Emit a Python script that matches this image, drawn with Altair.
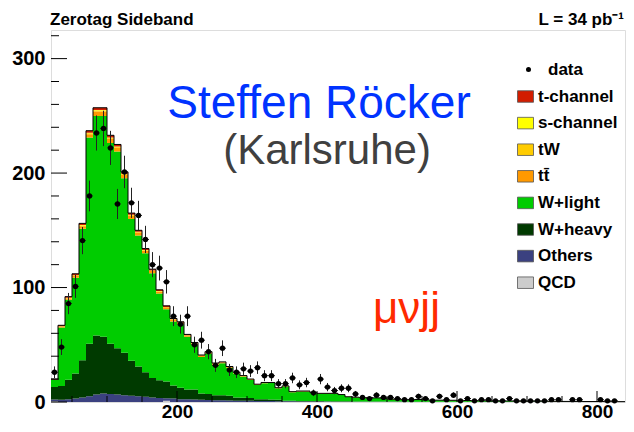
import math
import altair as alt
import pandas as pd

# ---------------- data ----------------
X_MIN, X_MAX, BIN_W = 20, 840, 10
BIN_START = list(range(20, 840, 10))  # 82 bins of 10 GeV

# legend order (top to bottom); stack order is the reverse (QCD at bottom)
COMPONENTS = ["t-channel", "s-channel", "tW", "tt\u0304", "W+light", "W+heavy", "Others", "QCD"]
COLORS = ["#d21d00", "#ffff00", "#ffcc00", "#ff9900", "#00cc00", "#003a00", "#3b4180", "#cccccc"]

QCD = [0.6] + [0.0] * 15 + [1.2] + [0.0] * 65

OTHERS = [1.5, 2, 2.5, 3, 4, 5, 6.5, 7.5, 7, 6.5, 6, 5.5, 5, 4.5, 4, 3.5, 2.0,
          3, 2.5, 2.3, 2.1, 2, 1.8, 1.6, 1.5, 1.4, 1.2, 1.1, 1.0, 0.9, 0.8, 0.8, 0.7, 0.6,
          0.6, 0.5, 0.5, 0.4, 0.4, 0.4, 0.3, 0.3, 0.3, 0.3, 0.2, 0.2, 0.2, 0.2, 0.15, 0.15, 0.15, 0.15] \
    + [0.1] * 9 + [0.05] * 21

W_HEAVY = [10.9, 12, 17, 22, 32.5, 46, 51.5, 49.5, 44, 40.5, 37, 30.5, 26, 21.5, 17, 15.5, 14.8, 11.5, 10, 8.7, 8.9,
           5.5, 5.2, 4.4, 4.3, 4.1, 2.8, 2.7, 2.6, 1.6, 1.5, 1.4, 1.3, 0.6, 0.4, 0.4, 0.4, 0.4, 0.4, 0.3, 0.4,
           0.3, 0.3, 0.2, 0.3, 0.3, 0.2, 0.2, 0.25, 0.2, 0.2, 0.15] \
    + [0.2] * 4 + [0.15] * 15 + [0.1] * 11

W_LIGHT = [6.2, 51, 69.8, 83.5, 114.9, 180, 191.9, 192.9, 175.3, 171.8, 152.5, 123.9, 114.5, 103.9, 91.4, 75.7,
           63.1, 55.8, 55.2, 45.9, 39,
           31.8, 35.4, 26.6, 28, 24.4, 21, 18.3, 15.6, 12.3, 14.1, 14.3, 10, 12.4, 7.6, 8.3, 8.3, 7.1, 6.4, 6.5, 6.5,
           5.7, 3.8, 3.5, 3.1, 3.1, 3.0, 2.8, 2.0, 1.85, 1.75, 1.8,
           1.8, 1.6, 1.2, 1.2, 1.15, 1.15, 1.05, 0.95, 0.85, 0.8, 0.7, 0.7, 0.6, 0.6, 0.5, 0.5, 0.4, 0.4, 0.4,
           0.35, 0.35, 0.25, 0.25, 0.25, 0.15, 0.15, 0.15, 0.05, 0.05, 0.05]

TTBAR = [0.3, 0.8, 1.2, 1.6, 2.2, 3.0, 3.8, 3.8, 3.6, 3.3, 3.0, 2.8, 2.5, 2.3, 2.0, 1.8, 1.6, 1.5, 1.3, 1.2, 1.1,
         1.0, 0.9, 0.8, 0.7, 0.6, 0.55, 0.5, 0.45, 0.4, 0.35, 0.3, 0.3, 0.25, 0.25, 0.2, 0.2, 0.2, 0.15, 0.15, 0.15] \
    + [0.1] * 10 + [0.05] * 31

TW = [0.1, 0.3, 0.4, 0.5, 0.7, 0.9, 1.0, 1.0, 0.9, 0.8, 0.7, 0.6, 0.5, 0.45, 0.4, 0.35, 0.3, 0.3, 0.25, 0.2, 0.2,
      0.2, 0.15, 0.15, 0.1, 0.1, 0.1, 0.1, 0.1, 0.05, 0.05] + [0.05] * 10 + [0.0] * 41

S_CHAN = [0.05, 0.1, 0.15, 0.2, 0.25, 0.3, 0.35, 0.35, 0.3, 0.3, 0.25, 0.25, 0.2, 0.2, 0.15, 0.15, 0.1, 0.1, 0.1,
          0.1, 0.1] + [0.05] * 10 + [0.0] * 51

T_CHAN = [0.4, 0.8, 1.0, 1.2, 1.5, 1.8, 2.0, 2.0, 1.9, 1.8, 1.6, 1.5, 1.3, 1.2, 1.1, 1.0, 0.9, 0.8, 0.7, 0.65, 0.6,
          0.5, 0.5, 0.45, 0.4, 0.35, 0.3, 0.3, 0.25, 0.25, 0.2] + [0.15] * 10 + [0.1] * 10 + [0.05] * 31

DATA = [26, 48, 86, 101, 141, 180, 235, 239, 222, 173, 201, 174, 163, 142, 120, 117, 105, 75, 68, 75,
        50, 54, 44, 32, 47, 28, 26, 29, 27, 30, 23, 23, 16, 16, 21, 15, 17, 8, 20, 13,
        10, 12, 12, 7, 4, 3, 6, 4, 4, 3, 2, 2, 5, 3, 1, 5, 2, 6, 1, 3,
        1, 2, 2, 1, 1, 3, 1, 1, 1, 1, 1, 2, 2, 0, 2, 2, 0, 0, 2, 1, 1, 0]

X_MAJOR = [200, 400, 600, 800]
X_MINOR = [50, 100, 150, 250, 300, 350, 450, 500, 550, 650, 700, 750]
Y_MAJOR = [0, 100, 200, 300]
Y_MINOR = [20, 40, 60, 80, 120, 140, 160, 180, 220, 240, 260, 280, 320]

# ---------------- tables ----------------
stack_names = ["QCD", "Others", "W+heavy", "W+light", "tt\u0304", "tW", "s-channel", "t-channel"]
stack_vals = [QCD, OTHERS, W_HEAVY, W_LIGHT, TTBAR, TW, S_CHAN, T_CHAN]
edges = BIN_START + [X_MAX]
rows = []
for order, (name, vals) in enumerate(zip(stack_names, stack_vals)):
    for xs_, v in zip(edges, vals + [vals[-1]]):
        rows.append({"comp": name, "order": order, "x": xs_, "v": v})
stack_df = pd.DataFrame(rows)

total = [sum(c[i] for c in stack_vals) for i in range(len(BIN_START))]
outline_df = pd.DataFrame({"x": edges, "y": total + [total[-1]]})

pts = [(b + BIN_W / 2, n) for b, n in zip(BIN_START, DATA) if n > 0]
data_df = pd.DataFrame({
    "x": [p[0] for p in pts],
    "n": [p[1] for p in pts],
    "lo": [p[1] - math.sqrt(p[1]) for p in pts],
    "hi": [p[1] + math.sqrt(p[1]) for p in pts],
    "x0": [p[0] - BIN_W / 2 for p in pts],
    "x1": [p[0] + BIN_W / 2 for p in pts],
    "kind": ["data"] * len(pts),
})

# svg must stay within 618 x 416 (page 634 x 432 minus 8px body margins)
W, H = 574, 372
FONT = "Liberation Sans"
xs = alt.Scale(domain=[X_MIN, X_MAX], nice=False, zero=False)
ys = alt.Scale(domain=[0, 325], nice=False)
x_axis = alt.Axis(values=X_MAJOR, labelFontSize=19, labelFontWeight="bold", labelFont=FONT,
                  labelColor="black", labelPadding=0, ticks=False, domain=False, grid=False)
y_axis = alt.Axis(values=Y_MAJOR, labelFontSize=20, labelFontWeight="bold", labelFont=FONT,
                  labelColor="black", labelPadding=6, ticks=False, domain=False, grid=False)

stack = alt.Chart(stack_df).transform_stack(
    stack="v", groupby=["x"], as_=["y0", "y1"], sort=[alt.SortField("order", order="ascending")]
).mark_area(interpolate="step-after").encode(
    x=alt.X("x:Q", scale=xs, axis=x_axis, title=None),
    y=alt.Y("y0:Q", scale=ys, axis=y_axis, title=None, stack=None),
    y2="y1:Q",
    color=alt.Color("comp:N", scale=alt.Scale(domain=COMPONENTS, range=COLORS),
                    legend=alt.Legend(title=None, orient="none", legendX=466, legendY=58,
                                      symbolType="M-1,-0.72H1V0.72H-1Z", symbolSize=256,
                                      symbolStrokeColor="#555", symbolStrokeWidth=0.8, symbolOpacity=1,
                                      labelFont=FONT, labelFontWeight="bold", labelFontSize=17,
                                      labelColor="black", labelOffset=4, rowPadding=8.6, padding=0)),
)

outline = alt.Chart(outline_df).mark_line(interpolate="step-after", color="black", strokeWidth=1).encode(
    x=alt.X("x:Q", scale=xs, title=None), y=alt.Y("y:Q", scale=ys, title=None))

def tick_layer(vals, axis, length):
    df = pd.DataFrame({"v": vals})
    if axis == "x":
        return alt.Chart(df).mark_rule(color="black", strokeWidth=1).encode(
            x=alt.X("v:Q", scale=xs, title=None), y=alt.value(H), y2=alt.value(H - length))
    return alt.Chart(df).mark_rule(color="black", strokeWidth=1).encode(
        y=alt.Y("v:Q", scale=ys, title=None), x=alt.value(0), x2=alt.value(length))

ticks = [tick_layer(X_MAJOR, "x", 11), tick_layer(X_MINOR, "x", 6),
         tick_layer(Y_MAJOR, "y", 16), tick_layer(Y_MINOR, "y", 8)]

base_pts = alt.Chart(data_df)
vbar = base_pts.mark_rule(color="#222", strokeWidth=1).encode(
    x=alt.X("x:Q", scale=xs, title=None), y=alt.Y("lo:Q", scale=ys, title=None), y2="hi:Q")
hbar = base_pts.mark_rule(color="#222", strokeWidth=1).encode(
    x=alt.X("x0:Q", scale=xs, title=None), x2="x1:Q", y=alt.Y("n:Q", scale=ys, title=None))
dots = base_pts.mark_point(filled=True, color="black", opacity=1, size=28).encode(
    x=alt.X("x:Q", scale=xs, title=None), y=alt.Y("n:Q", scale=ys, title=None),
    shape=alt.Shape("kind:N", scale=alt.Scale(domain=["data"], range=["circle"]),
                    legend=alt.Legend(title=None, orient="none", legendX=469, legendY=31,
                                      symbolSize=25, symbolFillColor="black", symbolStrokeColor="black",
                                      labelFont=FONT, labelFontWeight="bold", labelFontSize=17,
                                      labelColor="black", labelOffset=11, padding=0)))

def label(text, x, y, size, color, weight="normal", align="center"):
    return alt.Chart(pd.DataFrame({"t": [text]})).mark_text(
        font=FONT, fontSize=size, color=color, fontWeight=weight, align=align, baseline="alphabetic"
    ).encode(text="t:N", x=alt.value(x), y=alt.value(y))

texts = [
    label("Steffen Röcker", 268, 88, 46, "#0033ff"),
    label("(Karlsruhe)", 276, 134, 42, "#404040"),
    label("μνjj", 322, 293, 44, "#ff2a00", align="left"),
    label("Zerotag Sideband", -1, -5, 17, "black", weight="bold", align="left"),
    label("L = 34 pb\u207b\u00b9", 573, -5, 17, "black", weight="bold", align="right"),
]

chart = alt.layer(stack, outline, *ticks, vbar, hbar, dots, *texts).properties(
    width=W, height=H,
    autosize=alt.AutoSizeParams(type="none"),
    padding={"left": 43, "top": 22, "right": 1, "bottom": 22},
).resolve_legend(color="independent", shape="independent").configure_view(
    stroke="black", strokeWidth=1.5
).configure(font=FONT, background="white")

chart.save("out.html", embed_options={"renderer": "svg", "actions": False})
